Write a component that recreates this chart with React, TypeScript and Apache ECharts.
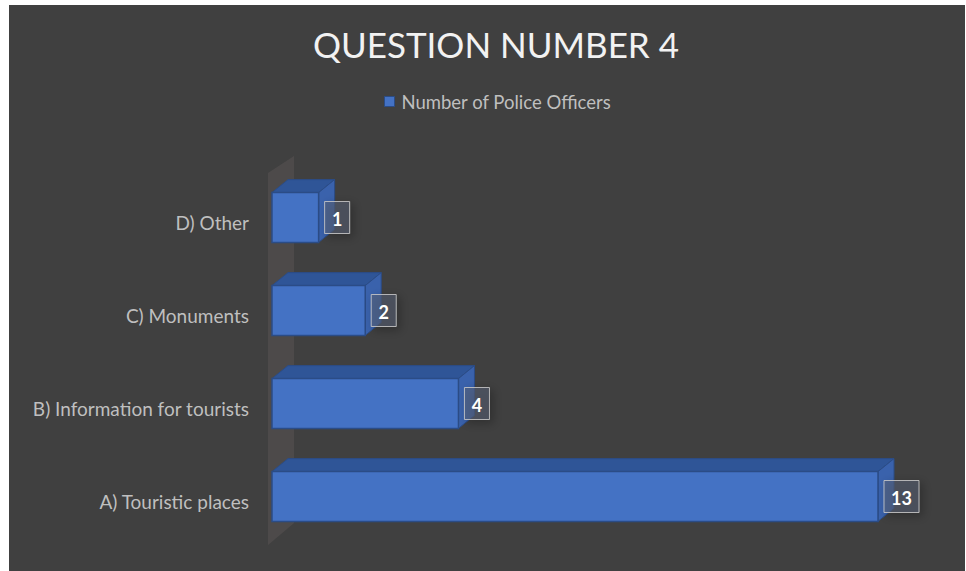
import React, { useEffect, useRef } from "react";
import * as echarts from "echarts";

const TITLE = "QUESTION NUMBER 4";
const SERIES_NAME = "Number of Police Officers";
const categories = [
  "A) Touristic places",
  "B) Information for tourists",
  "C) Monuments",
  "D) Other",
];
const values = [13, 4, 2, 1];

const FRONT = "#4472C4";
const TOP = "#2F5597";
const SIDE = "#3A62AC";
const EDGE = "#2B4C86";

export default function App() {
  const ref = useRef<HTMLDivElement>(null);
  useEffect(() => {
    const chart = echarts.init(ref.current!, null, { renderer: "svg" });
    const DX = 16;
    const DY = 13;
    const BAR_RATIO = 0.535;
    const option: any = {
      animation: false,
      backgroundColor: "#404040",
      title: {
        text: TITLE,
        left: 482,
        textAlign: "center",
        top: 16,
        textStyle: {
          color: "#F2F2F2",
          fontFamily: "Lato",
          fontWeight: "normal",
          fontSize: 35,
        },
      },
      legend: {
        data: [SERIES_NAME],
        left: 370,
        top: 82,
        icon: "rect",
        itemWidth: 10,
        itemHeight: 10,
        textStyle: {
          color: "#BFBFBF",
          fontFamily: "Lato",
          fontSize: 18.5,
          padding: [0, 0, 0, 2],
        },
        itemStyle: { borderColor: EDGE, borderWidth: 1 },
      },
      grid: { left: 263, top: 166, width: 606, height: 372, containLabel: false },
      xAxis: {
        type: "value",
        min: 0,
        max: 13,
        show: false,
      },
      yAxis: {
        type: "category",
        data: categories,
        axisLine: { show: false },
        axisTick: { show: false },
        axisLabel: {
          color: "#BFBFBF",
          fontFamily: "Lato",
          fontSize: 19,
          margin: 23,
          verticalAlign: "top",
          lineHeight: 9,
        },
      },
      series: [
        {
          name: "wall",
          type: "custom",
          silent: true,
          data: [[0, 0]],
          renderItem: (params: any, api: any) => {
            const cs = params.coordSys;
            const x = cs.x;
            const y = cs.y;
            const h = cs.height;
            return {
              type: "polygon",
              shape: {
                points: [
                  [x - 4, y + 2],
                  [x + 22, y - 15],
                  [x + 22, y + h - 20],
                  [x - 4, y + h + 2],
                ],
              },
              style: { fill: "rgba(110,100,100,0.3)" },
            };
          },
        },
        {
          name: SERIES_NAME,
          type: "custom",
          itemStyle: { color: FRONT },
          encode: { x: 0, y: 1 },
          data: values.map((v, i) => [v, i]),
          renderItem: (params: any, api: any) => {
            const val = api.value(0);
            const cat = api.value(1);
            const p0 = api.coord([0, cat]);
            const p1 = api.coord([val, cat]);
            const band = api.size([0, 1])[1];
            const h = band * BAR_RATIO;
            const x0 = p0[0];
            const x1 = p1[0];
            const yt = p0[1] - h / 2;
            const yb = p0[1] + h / 2;
            const txt = String(val);
            const lw = 15 + 10 * txt.length;
            const lh = 32;
            const lx = x1 + 6;
            return {
              type: "group",
              children: [
                {
                  type: "polygon",
                  shape: {
                    points: [
                      [x0, yt],
                      [x0 + DX, yt - DY],
                      [x1 + DX, yt - DY],
                      [x1, yt],
                    ],
                  },
                  style: { fill: TOP, stroke: EDGE, lineWidth: 1 },
                },
                {
                  type: "polygon",
                  shape: {
                    points: [
                      [x1, yt],
                      [x1 + DX, yt - DY],
                      [x1 + DX, yb - DY],
                      [x1, yb],
                    ],
                  },
                  style: { fill: SIDE, stroke: EDGE, lineWidth: 1 },
                },
                {
                  type: "rect",
                  shape: { x: x0, y: yt, width: x1 - x0, height: h },
                  style: { fill: FRONT, stroke: EDGE, lineWidth: 1.5 },
                },
                {
                  type: "rect",
                  shape: { x: lx, y: p0[1] - lh / 2, width: lw, height: lh },
                  style: {
                    fill: "rgba(85,95,115,0.55)",
                    stroke: "rgba(200,200,200,0.85)",
                    lineWidth: 1,
                    shadowBlur: 10,
                    shadowColor: "rgba(0,0,0,0.45)",
                    shadowOffsetX: 3,
                    shadowOffsetY: 3,
                  },
                },
                {
                  type: "text",
                  style: {
                    text: txt,
                    x: lx + lw / 2,
                    y: p0[1] + 1,
                    align: "center",
                    verticalAlign: "middle",
                    fill: "#FFFFFF",
                    font: "bold 18px Lato",
                  },
                },
              ],
            };
          },
        },
      ],
    };
    chart.setOption(option);
    return () => chart.dispose();
  }, []);
  return (
    <div
      ref={ref}
      style={{ position: "absolute", left: 9, top: 5, width: 956, height: 566 }}
    />
  );
}
